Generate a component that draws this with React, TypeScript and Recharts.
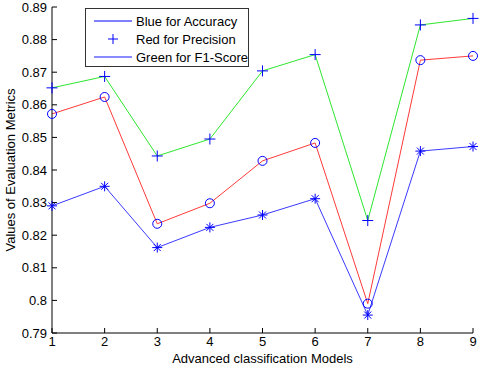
import React from "react";
import { Label, Legend, Line, LineChart, XAxis, YAxis } from "recharts";

const MODELS = [1, 2, 3, 4, 5, 6, 7, 8, 9];
const ACCURACY = [0.829, 0.835, 0.8162, 0.8224, 0.8262, 0.8312, 0.7955, 0.8458, 0.8472];
const PRECISION = [0.8572, 0.8624, 0.8235, 0.8298, 0.8428, 0.8483, 0.799, 0.8737, 0.875];
const F1_SCORE = [0.8652, 0.8687, 0.8443, 0.8495, 0.8704, 0.8754, 0.8245, 0.8845, 0.8865];
const Y_TICKS = [0.79, 0.8, 0.81, 0.82, 0.83, 0.84, 0.85, 0.86, 0.87, 0.88, 0.89];
const LEGEND_LABELS = ["Blue for Accuracy", "Red for Precision", "Green for F1-Score"];

const FONT = "'Liberation Sans', Arial, sans-serif";
const MARK = "#0000ff";

const data = MODELS.map((m, i) => ({
  model: m,
  accuracy: ACCURACY[i],
  precision: PRECISION[i],
  f1: F1_SCORE[i],
}));

const fmt = (v: number) => String(Number(v.toFixed(2)));

function XTick({ x, y, payload }: any) {
  return (
    <g>
      <line x1={x} x2={x} y1={y - 4} y2={y - 9} stroke="#000" />
      <text x={x} y={y} dy="0.71em" textAnchor="middle" fontSize={13} fontFamily={FONT} fill="#000">
        {payload.value}
      </text>
    </g>
  );
}

function YTick({ x, y, payload }: any) {
  return (
    <g>
      <line x1={x + 5} x2={x + 10} y1={y} y2={y} stroke="#000" />
      <text x={x} y={y} dy="0.355em" textAnchor="end" fontSize={13} fontFamily={FONT} fill="#000">
        {fmt(payload.value)}
      </text>
    </g>
  );
}

function StarDot({ cx, cy, index }: any) {
  const d = 3.5;
  return (
    <g key={index} stroke={MARK} strokeWidth={1}>
      <line x1={cx - 5} x2={cx + 5} y1={cy} y2={cy} />
      <line x1={cx} x2={cx} y1={cy - 5} y2={cy + 5} />
      <line x1={cx - d} x2={cx + d} y1={cy - d} y2={cy + d} />
      <line x1={cx - d} x2={cx + d} y1={cy + d} y2={cy - d} />
    </g>
  );
}

function CircleDot({ cx, cy, index }: any) {
  return <circle key={index} cx={cx} cy={cy} r={4.5} fill="none" stroke={MARK} strokeWidth={1} />;
}

function PlusDot({ cx, cy, index }: any) {
  return (
    <g key={index} stroke={MARK} strokeWidth={1}>
      <line x1={cx - 5.5} x2={cx + 5.5} y1={cy} y2={cy} />
      <line x1={cx} x2={cx} y1={cy - 5.5} y2={cy + 5.5} />
    </g>
  );
}

function LegendBox({ payload }: any) {
  return (
    <div
      style={{
        width: 162,
        height: 57,
        border: "1px solid #333",
        background: "#fff",
        fontFamily: FONT,
        fontSize: 13,
        color: "#000",
        boxSizing: "content-box",
      }}
    >
      {(payload || []).map((p: any, i: number) => (
        <div key={i} style={{ display: "flex", alignItems: "center", height: 18, marginTop: i === 0 ? 3 : 0 }}>
          <svg width={50} height={18} style={{ display: "block" }}>
            {i === 0 && <line x1={8} x2={46} y1={9} y2={9} stroke={MARK} strokeWidth={1} />}
            {i === 1 && (
              <g stroke={MARK}>
                <line x1={22} x2={32} y1={9} y2={9} />
                <line x1={27} x2={27} y1={4} y2={14} />
              </g>
            )}
            {i === 2 && <line x1={8} x2={46} y1={9} y2={9} stroke="#8a8aff" strokeWidth={2} />}
          </svg>
          <span>{LEGEND_LABELS[i] ?? p.value}</span>
        </div>
      ))}
    </div>
  );
}

export default function App() {
  return (
    <div style={{ position: "absolute", left: 0, top: 0, width: 480, height: 368, background: "#fff" }}>
      <LineChart width={480} height={368} data={data} margin={{ top: 7, right: 7, bottom: 0, left: 0 }}>
        <XAxis
          dataKey="model"
          type="number"
          domain={[1, 9]}
          ticks={MODELS}
          interval={0}
          height={35}
          tickSize={0}
          tickMargin={4}
          tickLine={false}
          stroke="#000"
          tick={<XTick />}
        >
          <Label
            value="Advanced classification Models"
            position="insideBottom"
            offset={5}
            fontSize={13}
            fontFamily={FONT}
            fill="#000"
          />
        </XAxis>
        <XAxis
          xAxisId="top"
          orientation="top"
          dataKey="model"
          type="number"
          domain={[1, 9]}
          ticks={MODELS}
          interval={0}
          height={0}
          mirror
          tick={false}
          tickSize={5}
          stroke="#000"
        />
        <YAxis
          type="number"
          domain={[0.79, 0.89]}
          ticks={Y_TICKS}
          interval={0}
          width={52}
          tickSize={0}
          tickMargin={5}
          tickLine={false}
          stroke="#000"
          tick={<YTick />}
        >
          <Label
            content={({ viewBox }: any) => {
              const cx = viewBox.x + 10;
              const cy = viewBox.y + viewBox.height / 2;
              return (
                <text
                  x={cx}
                  y={cy}
                  transform={`rotate(-90 ${cx} ${cy})`}
                  textAnchor="middle"
                  dominantBaseline="central"
                  fontSize={13}
                  fontFamily={FONT}
                  fill="#000"
                >
                  Values of Evaluation Metrics
                </text>
              );
            }}
          />
        </YAxis>
        <YAxis
          yAxisId="right"
          orientation="right"
          type="number"
          domain={[0.79, 0.89]}
          ticks={Y_TICKS}
          interval={0}
          width={0}
          mirror
          tick={false}
          tickSize={5}
          stroke="#000"
        />
        <Legend
          layout="horizontal"
          verticalAlign="middle"
          content={<LegendBox />}
          wrapperStyle={{ position: "absolute", left: 85, top: 8, width: "auto" }}
        />
        <Line
          name={LEGEND_LABELS[0]}
          dataKey="accuracy"
          stroke="#3a3aff"
          strokeWidth={1}
          dot={<StarDot />}
          activeDot={false}
          isAnimationActive={false}
        />
        <Line
          name={LEGEND_LABELS[1]}
          dataKey="precision"
          stroke="#ff3a3a"
          strokeWidth={1}
          dot={<CircleDot />}
          activeDot={false}
          isAnimationActive={false}
        />
        <Line
          name={LEGEND_LABELS[2]}
          dataKey="f1"
          stroke="#2ee62e"
          strokeWidth={1}
          dot={<PlusDot />}
          activeDot={false}
          isAnimationActive={false}
        />
      </LineChart>
    </div>
  );
}
